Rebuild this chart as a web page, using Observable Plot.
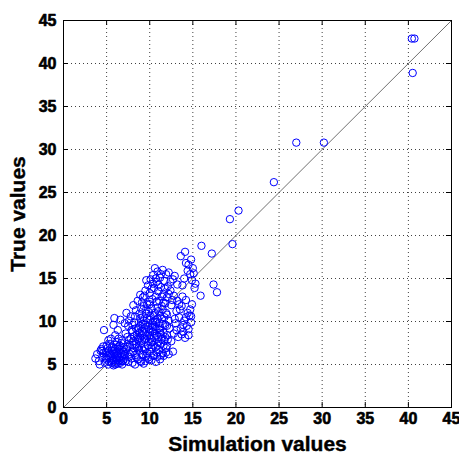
<!DOCTYPE html>
<html>
<head>
<meta charset="utf-8">
<script src="https://cdn.jsdelivr.net/npm/d3@7"></script>
<script src="https://cdn.jsdelivr.net/npm/@observablehq/plot@0.6"></script>
<style>
  html, body { margin: 0; padding: 0; background: #fff; }
</style>
</head>
<body>
<div id="chart"></div>
<script>
const xTicks = [0, 5, 10, 15, 20, 25, 30, 35, 40, 45];
const yTicks = [0, 5, 10, 15, 20, 25, 30, 35, 40, 45];
const xLabel = "Simulation values";
const yLabel = "True values";

// Simulation values (x) and true values (y)
const simValues = [
  3.7,3.9,4.1,4.3,4.5,4.6,4.8,4.9,5.0,5.1,5.2,5.3,5.4,5.5,5.6,5.7,5.8,5.8,5.9,6.0,6.0,6.1,6.2,6.2,6.3,6.4,6.5,6.5,6.6,6.7,6.8,6.8,6.9,7.0,7.0,5.5,5.2,4.7,6.0,5.8,6.3,6.6,5.9,6.4,4.4,5.6,6.1,5.0,6.7,5.4,
  4.2,4.6,4.9,5.1,5.3,5.5,5.6,5.7,5.9,6.0,6.1,6.2,6.3,6.4,6.5,6.6,6.7,6.8,6.9,7.0,5.2,5.8,6.3,4.5,6.1,
  7.2,7.3,7.4,7.5,7.6,7.7,7.8,7.9,8.0,8.0,8.1,8.2,8.3,8.4,8.5,8.5,8.6,8.7,8.8,8.9,9.0,9.0,9.1,9.2,9.3,9.3,9.4,9.5,9.5,9.6,9.7,9.8,9.8,9.9,10.0,10.0,10.1,10.2,10.2,10.3,10.4,10.5,10.5,10.6,10.7,10.8,10.9,11.0,11.0,11.1,11.2,11.3,11.4,11.5,11.6,11.7,11.8,11.9,12.0,12.0,
  8.2,8.7,9.2,9.6,10.1,10.4,10.8,9.4,8.9,9.9,10.6,11.3,7.6,8.4,9.7,10.3,11.1,8.8,7.9,9.1,10.9,11.5,12.3,12.5,11.8,7.1,7.3,7.0,8.1,11.6,11.9,12.2,12.7,9.5,10.7,8.3,11.2,12.0,7.7,10.0,
  7.1,7.2,7.4,7.5,7.6,7.8,7.9,8.0,8.1,8.2,8.3,8.4,8.5,8.6,8.7,8.8,8.9,9.0,9.1,9.2,9.3,9.4,9.5,9.6,9.7,9.8,9.9,10.0,10.1,10.2,10.3,10.4,10.5,10.6,10.7,10.8,10.9,11.0,11.1,11.2,11.3,11.4,11.5,11.6,11.7,11.8,11.9,12.0,12.1,12.2,8.0,8.6,9.1,9.6,10.1,10.6,11.2,9.3,10.4,8.9,
  8.6,8.9,9.2,9.5,9.7,9.8,10.0,10.1,10.3,10.4,10.5,10.6,10.7,10.8,10.9,11.0,11.1,11.2,11.3,11.5,11.6,11.7,11.9,12.0,12.1,12.2,12.4,12.5,12.7,12.8,9.0,9.9,10.9,11.4,12.9,13.2,12.6,
  9.1,9.4,9.6,10.0,10.2,10.4,10.7,11.0,11.3,11.6,11.8,12.2,12.4,10.8,11.4,
  12.8,13.0,13.1,13.3,13.4,13.6,13.7,13.9,14.0,14.2,14.3,14.4,14.5,14.6,14.8,14.9,13.2,12.9,13.8,14.1,14.7,
  13.1,13.5,13.9,14.2,14.5,13.4,14.8,13.7,
  13.6,14.1,14.5,14.4,14.7,14.9,15.1,15.3,14.8,15.0,14.2,15.2,14.0,13.8,
  15.9,17.4,17.8,16.0,17.2,19.6,19.3,20.3,24.4,27.0,30.2,40.4,40.7,40.5
];
const trueValues = [
  5.7,6.2,5.4,6.6,5.9,7.1,5.2,6.4,5.6,6.9,5.0,6.1,7.4,5.4,6.6,5.8,4.9,7.0,6.2,5.3,6.8,5.7,7.6,6.0,5.1,6.5,5.5,7.2,5.9,6.3,5.0,7.8,6.7,5.6,6.1,8.0,7.8,9.0,8.4,9.6,9.0,10.2,10.4,8.0,6.8,5.2,6.4,7.2,5.4,6.3,
  5.0,6.3,5.8,6.0,5.3,6.0,7.0,5.5,6.6,5.0,7.3,5.5,6.2,5.8,6.8,5.2,7.5,6.0,5.4,6.5,6.6,6.4,7.0,6.6,5.1,
  5.4,6.8,8.2,9.5,5.9,7.3,10.6,6.4,8.8,5.2,7.7,9.9,6.1,11.3,7.0,8.4,5.6,9.3,6.6,10.4,7.5,5.3,8.9,6.2,11.8,5.1,7.9,9.6,6.8,10.9,8.3,5.8,7.2,9.1,10.2,6.5,8.0,11.5,5.5,7.6,9.4,6.1,10.7,8.6,7.0,9.9,5.9,8.2,11.2,6.7,9.0,7.4,10.3,6.3,8.7,7.8,9.6,6.9,8.4,10.8,
  6.9,7.9,9.7,6.0,9.0,7.3,8.4,8.6,8.1,7.7,10.0,8.5,7.8,9.2,10.4,8.8,9.8,10.9,9.0,6.9,7.2,11.4,9.2,7.7,12.1,9.8,11.0,7.0,11.9,6.0,6.4,6.2,6.5,5.4,5.3,5.0,5.6,7.2,6.2,12.3,
  6.2,8.6,7.1,5.3,10.1,8.0,5.7,9.6,6.5,8.3,10.6,7.4,5.8,9.0,6.9,8.7,5.4,9.9,7.8,10.5,6.6,9.2,8.0,11.4,6.3,9.4,5.6,8.4,10.6,7.0,9.6,6.0,8.1,11.0,9.1,6.4,10.3,7.6,9.2,10.7,6.1,8.0,9.7,7.2,10.5,8.2,11.0,9.5,7.9,10.1,7.3,8.0,8.4,8.8,7.6,9.4,8.7,10.1,10.0,9.5,
  12.4,13.1,12.8,13.6,12.0,14.2,13.3,14.9,12.6,15.4,13.9,16.2,12.9,14.6,15.8,13.5,12.4,15.1,14.0,16.0,13.2,14.7,15.5,12.8,14.1,15.7,13.6,11.9,14.9,13.0,11.5,11.1,11.6,12.9,15.3,14.3,12.5,
  12.2,13.0,14.8,12.0,13.8,14.4,15.0,14.3,15.5,12.2,13.8,13.2,14.6,12.3,11.8,
  8.6,9.8,11.2,8.2,10.5,9.2,11.8,8.8,10.1,12.5,9.5,11.0,8.4,10.7,9.9,12.0,12.4,10.3,12.9,8.1,11.4,
  9.0,11.4,9.6,10.5,9.1,12.0,10.6,8.5,
  17.6,18.1,16.6,15.9,15.5,14.8,15.6,14.4,17.2,16.2,16.8,13.9,15.0,14.2,
  13.0,14.3,13.4,18.8,17.9,19.0,21.9,22.9,26.2,30.8,30.8,42.9,42.9,38.9
];
const points = simValues.map((s, i) => ({sim: s, truth: trueValues[i]}));
const diagonal = [0, 45];

const W = 459, H = 457;
const mL = 63, mR = 8, mT = 20, mB = 50;
const plotW = W - mL - mR, plotH = H - mT - mB;
const tickLen = 5;
const font = "'Liberation Sans', Arial, Helvetica, sans-serif";

const chart = Plot.plot({
  width: W,
  height: H,
  marginLeft: mL,
  marginRight: mR,
  marginTop: mT,
  marginBottom: mB,
  style: {fontFamily: font, background: "#fff", overflow: "visible"},
  x: {domain: [0, 45], axis: null},
  y: {domain: [0, 45], axis: null},
  marks: [
    Plot.ruleX(xTicks.slice(1, -1), {stroke: "#000", strokeOpacity: 0.75, strokeDasharray: "1,3"}),
    Plot.ruleY(yTicks.slice(1, -1), {stroke: "#000", strokeOpacity: 0.75, strokeDasharray: "1,3"}),
    Plot.line(diagonal.map(d => ({a: d})), {x: "a", y: "a", stroke: "#707070", strokeWidth: 1}),
    Plot.dot(points, {x: "sim", y: "truth", r: 3.7, stroke: "#0000ff", fill: "none", strokeWidth: 1}),
    // inward ticks on all four sides
    Plot.tickX(xTicks, {x: d => d, insetTop: plotH - tickLen, stroke: "#000"}),
    Plot.tickX(xTicks, {x: d => d, insetBottom: plotH - tickLen, stroke: "#000"}),
    Plot.tickY(yTicks, {y: d => d, insetRight: plotW - tickLen, stroke: "#000"}),
    Plot.tickY(yTicks, {y: d => d, insetLeft: plotW - tickLen, stroke: "#000"}),
    Plot.frame({stroke: "#000", strokeWidth: 1}),
    // tick labels
    Plot.text(xTicks, {x: d => d, text: d => String(d), frameAnchor: "bottom", lineAnchor: "top", dy: 5, fontSize: 16, fontWeight: "bold", fill: "#000", stroke: "#000", strokeWidth: 0.6}),
    Plot.text(yTicks, {y: d => d, text: d => String(d), frameAnchor: "left", textAnchor: "end", lineAnchor: "middle", dx: -7, fontSize: 16, fontWeight: "bold", fill: "#000", stroke: "#000", strokeWidth: 0.6}),
    // axis titles
    Plot.text([xLabel], {text: d => d, frameAnchor: "bottom", lineAnchor: "middle", dy: 37, fontSize: 21, fontWeight: "bold", fill: "#000", stroke: "#000", strokeWidth: 0.4}),
    Plot.text([yLabel], {text: d => d, frameAnchor: "left", lineAnchor: "middle", textAnchor: "middle", rotate: -90, dx: -45, fontSize: 21, fontWeight: "bold", fill: "#000", stroke: "#000", strokeWidth: 0.4})
  ]
});
document.getElementById("chart").appendChild(chart);
</script>
</body>
</html>
